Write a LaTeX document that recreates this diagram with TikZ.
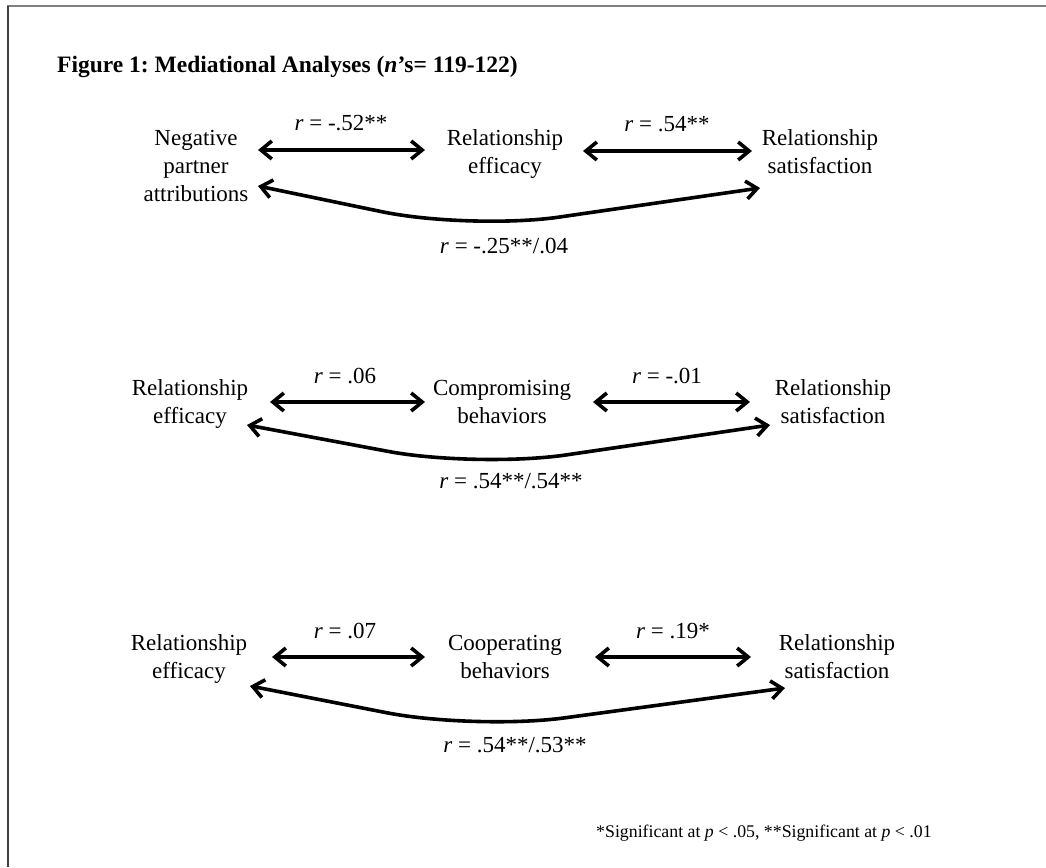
\documentclass[tikz,border=0pt]{standalone}
\usepackage{fontspec}
\setmainfont{Liberation Serif}
\usetikzlibrary{arrows.meta,calc}
\frenchspacing
\newcommand\lbl[1]{\begin{tabular}[t]{@{}c@{}}#1\end{tabular}}
\begin{document}
\begin{tikzpicture}[x=1pt,y=-1pt,
  box/.style={inner sep=0pt,anchor=base,font=\fontsize{23}{28.3}\selectfont},
  rlab/.style={inner sep=0pt,anchor=base,font=\fontsize{23}{28.3}\selectfont},
  dbl/.style={line width=3.6pt,{Straight Barb[length=11pt,width=18pt]}-{Straight Barb[length=11pt,width=18pt]}},
  bent/.style={dbl,rounded corners=90pt}]
\useasboundingbox (0,0) rectangle (1046,867);
\fill[white] (0,0) rectangle (1046,867);
\draw[line width=2pt,gray] (7,6.5) -- (1046,6.5);
\draw[line width=2pt,black!75] (7.5,6) -- (7.5,867);

\node[inner sep=0pt,anchor=base west,font=\fontsize{23.5}{28}\selectfont\bfseries] (title) at (57,73)
  {Figure 1: Mediational Analyses (\textit{n}’s= 119-122)};

% Row 1
\node[box] (A1) at (196,145) {\lbl{Negative\\partner\\attributions}};
\node[box] (B1) at (505,145) {\lbl{Relationship\\efficacy}};
\node[box] (C1) at (820,145) {\lbl{Relationship\\satisfaction}};
\coordinate (m1) at (470,230);
\draw[dbl] ([xshift=62pt,yshift=-5pt]A1.base) -- ([xshift=-80pt,yshift=-5pt]B1.base);
\draw[dbl] ([xshift=78pt,yshift=-6pt]B1.base) -- ([xshift=-68pt,yshift=-6pt]C1.base);
\draw[bent] ([xshift=62pt,yshift=-41pt]A1.base) -- (m1) -- ([xshift=-60pt,yshift=-43pt]C1.base);
\node[rlab] (r1a) at (341,130) {\textit{r} = -.52**};
\node[rlab] (r1b) at (667,131) {\textit{r} = .54**};
\node[rlab] (r1c) at (504,253) {\textit{r} = -.25**/.04};

% Row 2
\node[box] (A2) at (190,395) {\lbl{Relationship\\efficacy}};
\node[box] (B2) at (502,395) {\lbl{Compromising\\behaviors}};
\node[box] (C2) at (833,395) {\lbl{Relationship\\satisfaction}};
\coordinate (m2) at (477,468);
\draw[dbl] ([xshift=80pt,yshift=-7pt]A2.base) -- ([xshift=-77pt,yshift=-7pt]B2.base);
\draw[dbl] ([xshift=91pt,yshift=-7pt]B2.base) -- ([xshift=-83pt,yshift=-7pt]C2.base);
\draw[bent] ([xshift=57pt,yshift=-30pt]A2.base) -- (m2) -- ([xshift=-63pt,yshift=-30pt]C2.base);
\node[rlab] (r2a) at (345,383) {\textit{r} = .06};
\node[rlab] (r2b) at (667,383) {\textit{r} = -.01};
\node[rlab] (r2c) at (511,488) {\textit{r} = .54**/.54**};

% Row 3
\node[box] (A3) at (189,650) {\lbl{Relationship\\efficacy}};
\node[box] (B3) at (505,650) {\lbl{Cooperating\\behaviors}};
\node[box] (C3) at (837,650) {\lbl{Relationship\\satisfaction}};
\coordinate (m3) at (475,730);
\draw[dbl] ([xshift=83pt,yshift=-7pt]A3.base) -- ([xshift=-80pt,yshift=-7pt]B3.base);
\draw[dbl] ([xshift=90pt,yshift=-7pt]B3.base) -- ([xshift=-86pt,yshift=-7pt]C3.base);
\draw[bent] ([xshift=61pt,yshift=-36pt]A3.base) -- (m3) -- ([xshift=-52pt,yshift=-38pt]C3.base);
\node[rlab] (r3a) at (345,638) {\textit{r} = .07};
\node[rlab] (r3b) at (673,638) {\textit{r} = .19*};
\node[rlab] (r3c) at (515,752) {\textit{r} = .54**/.53**};

\node[inner sep=0pt,anchor=base west,font=\fontsize{17.8}{21}\selectfont] (foot) at (596,837)
  {*Significant at \textit{p} < .05, **Significant at \textit{p} < .01};
\end{tikzpicture}
\end{document}
